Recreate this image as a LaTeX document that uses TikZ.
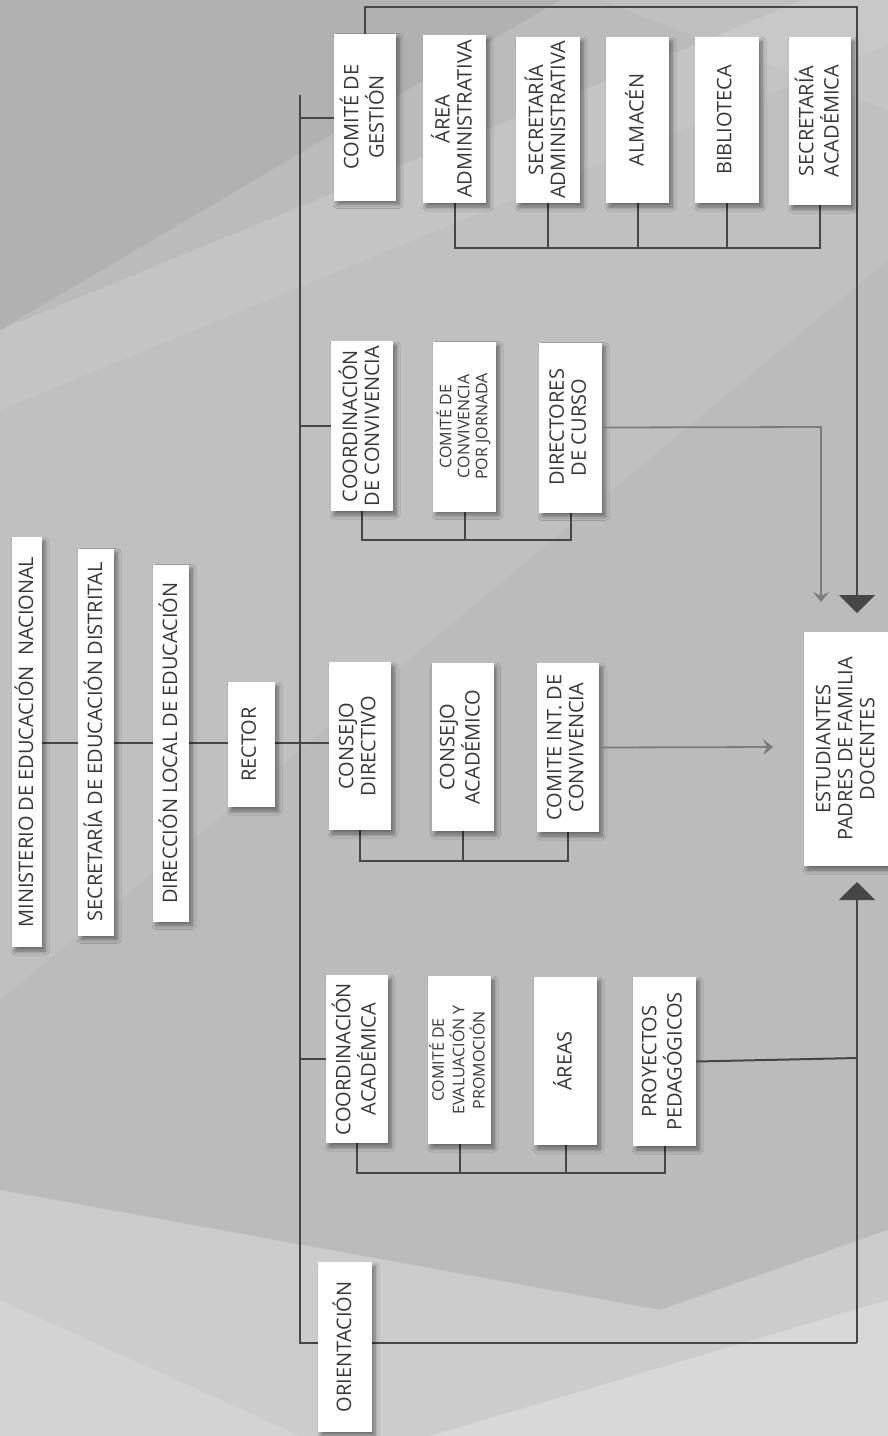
\documentclass[tikz,border=0pt]{standalone}
\usepackage{fontspec}
\setmainfont{Open Sans}
\usetikzlibrary{arrows.meta,shadows.blur}
\definecolor{bg}{HTML}{BBBBBB}
\definecolor{txt}{HTML}{383838}
\definecolor{ln}{HTML}{464646}
\definecolor{lnl}{HTML}{7C7C7C}
\newcommand\vtxt[1]{\rotatebox{90}{\begin{tabular}{@{}c@{}}#1\end{tabular}}}
\tikzset{
  box/.style={fill=white, draw=none, inner sep=0pt, text=txt,
    font=\fontsize{20}{22}\selectfont,
    blur shadow={shadow xshift=3pt, shadow yshift=-4pt, shadow blur steps=6, shadow blur radius=4pt, shadow opacity=45}},
  small/.style={font=\fontsize{16}{18}\selectfont},
  conn/.style={draw=ln, line width=2pt},
  connl/.style={draw=lnl, line width=1.8pt},
  bigarrow/.style={-{Triangle[width=36pt,length=18pt]}},
  smallarrow/.style={-{Stealth[width=16pt,length=10pt,inset=4pt]}},
}
\begin{document}
\begin{tikzpicture}[x=1pt,y=-1pt]
\useasboundingbox (0,0) rectangle (888,1436);
\fill[bg] (0,0) rectangle (888,1436);
% background light/dark diagonal shapes
\fill[black,opacity=0.05] (0,0) -- (560,0) -- (0,330) -- cycle;
\fill[white,opacity=0.14] (0,330) -- (888,-35) -- (888,45) -- (0,410) -- cycle;
\fill[white,opacity=0.08] (0,410) -- (888,45) -- (888,260) -- (0,1000) -- cycle;
\fill[white,opacity=0.08] (600,0) -- (888,0) -- (888,110) -- cycle;
\fill[white,opacity=0.25] (0,1190) -- (660,1310) -- (888,1230) -- (888,1436) -- (0,1436) -- cycle;
\fill[white,opacity=0.25] (430,1436) -- (888,1300) -- (888,1436) -- cycle;
\fill[white,opacity=0.15] (0,1300) -- (300,1436) -- (0,1436) -- cycle;

% coordinates
\coordinate (bt) at (300,95);
\coordinate (bb) at (300,1343);
\coordinate (br) at (857,1343);
\coordinate (ba) at (857,882);
\coordinate (tl) at (365,7);
\coordinate (tr) at (857,7);
\coordinate (ta) at (857,613);
\coordinate (dc) at (821,427);
\coordinate (da) at (821,602);
\coordinate (ca) at (773,747);
\coordinate (pr) at (857,1058);

% connectors (behind boxes)
\draw[conn] (bt) -- (bb) -- (br);
\draw[conn, bigarrow] (br) -- (ba);
\draw[conn] (300,118) -- (365,118);
\draw[conn] (300,426) -- (362,426);
\draw[conn] (300,1059) -- (357,1059);
\draw[conn, line width=2.6pt] (27,743) -- (360,743);
\draw[conn, bigarrow] (365,117) -- (tl) -- (tr) -- (ta);
% top group bus
\draw[conn] (454.5,120) -- (454.5,248) -- (820,248) -- (820,121);
\draw[conn] (548,120) -- (548,248);
\draw[conn] (637.5,120) -- (637.5,248);
\draw[conn] (727,120) -- (727,248);
% convivencia bus
\draw[conn] (362,426) -- (362,540) -- (570.5,540) -- (570.5,427);
\draw[conn] (464.5,426) -- (464.5,540);
% consejo bus
\draw[conn] (360,746) -- (360,861) -- (568,861) -- (568,747);
\draw[conn] (462.5,747) -- (462.5,861);
% academic bus
\draw[conn] (357,1059) -- (357,1173) -- (664.5,1173) -- (664.5,1061);
\draw[conn] (459.5,1060) -- (459.5,1173);
\draw[conn] (565.5,1061) -- (565.5,1173);

% boxes
\node[box, minimum width=30pt, minimum height=410pt] (min) at (27,742) {\vtxt{MINISTERIO DE EDUCACIÓN\ \ NACIONAL}};
\node[box, minimum width=36pt, minimum height=387pt] (sed) at (96,742) {\vtxt{SECRETARÍA DE EDUCACIÓN DISTRITAL}};
\node[box, minimum width=36pt, minimum height=357pt] (dle) at (171,743) {\vtxt{DIRECCIÓN LOCAL DE EDUCACIÓN}};
\node[box, minimum width=47pt, minimum height=125pt] (rec) at (251.5,744.5) {\vtxt{RECTOR}};

\node[box, minimum width=62pt, minimum height=167pt] (cge) at (365,117) {\vtxt{COMITÉ DE\\GESTIÓN}};
\node[box, minimum width=63pt, minimum height=168pt] (aad) at (454.5,119) {\vtxt{ÁREA\\ADMINISTRATIVA}};
\node[box, minimum width=64pt, minimum height=166pt] (sad) at (548,120) {\vtxt{SECRETARÍA\\ADMINISTRATIVA}};
\node[box, minimum width=63pt, minimum height=166pt] (alm) at (637.5,120) {\vtxt{ALMACÉN}};
\node[box, minimum width=64pt, minimum height=166pt] (bib) at (727,120) {\vtxt{BIBLIOTECA}};
\node[box, minimum width=62pt, minimum height=168pt] (sac) at (820,121) {\vtxt{SECRETARÍA\\ACADÉMICA}};

\node[box, minimum width=62pt, minimum height=170pt] (ccv) at (362,426) {\vtxt{COORDINACIÓN\\DE CONVIVENCIA}};
\node[box, small, minimum width=63pt, minimum height=170pt] (ccj) at (464.5,426.5) {\vtxt{COMITÉ DE\\CONVIVENCIA\\POR JORNADA}};
\node[box, minimum width=63pt, minimum height=170pt] (dcu) at (570.5,427.5) {\vtxt{DIRECTORES\\DE CURSO}};

\node[box, minimum width=62pt, minimum height=168pt] (cdi) at (360,746) {\vtxt{CONSEJO\\DIRECTIVO}};
\node[box, minimum width=62pt, minimum height=168pt] (cac) at (462.5,747) {\vtxt{CONSEJO\\ACADÉMICO}};
\node[box, minimum width=62pt, minimum height=169pt] (cic) at (568,747.5) {\vtxt{COMITE INT. DE\\CONVIVENCIA}};

\node[box, minimum width=62pt, minimum height=168pt] (cca) at (357,1059) {\vtxt{COORDINACIÓN\\ACADÉMICA}};
\node[box, small, minimum width=63pt, minimum height=168pt] (cep) at (459.5,1060) {\vtxt{COMITÉ DE\\EVALUACIÓN Y\\PROMOCIÓN}};
\node[box, minimum width=63pt, minimum height=168pt] (are) at (565.5,1061) {\vtxt{ÁREAS}};
\node[box, minimum width=63pt, minimum height=169pt] (ppe) at (664.5,1061.5) {\vtxt{PROYECTOS\\PEDAGÓGICOS}};

\node[box, minimum width=88pt, minimum height=234pt] (est) at (848,749) {\vtxt{ESTUDIANTES\\PADRES DE FAMILIA\\DOCENTES}};
\node[box, minimum width=54pt, minimum height=170pt] (ori) at (345,1347) {\vtxt{ORIENTACIÓN}};

% side connectors
\draw[connl, smallarrow] (dcu.east) -- (dc) -- (da);
\draw[connl, smallarrow] (cic.east) -- (ca);
\draw[conn] (ppe.east) -- (pr);
\end{tikzpicture}
\end{document}
